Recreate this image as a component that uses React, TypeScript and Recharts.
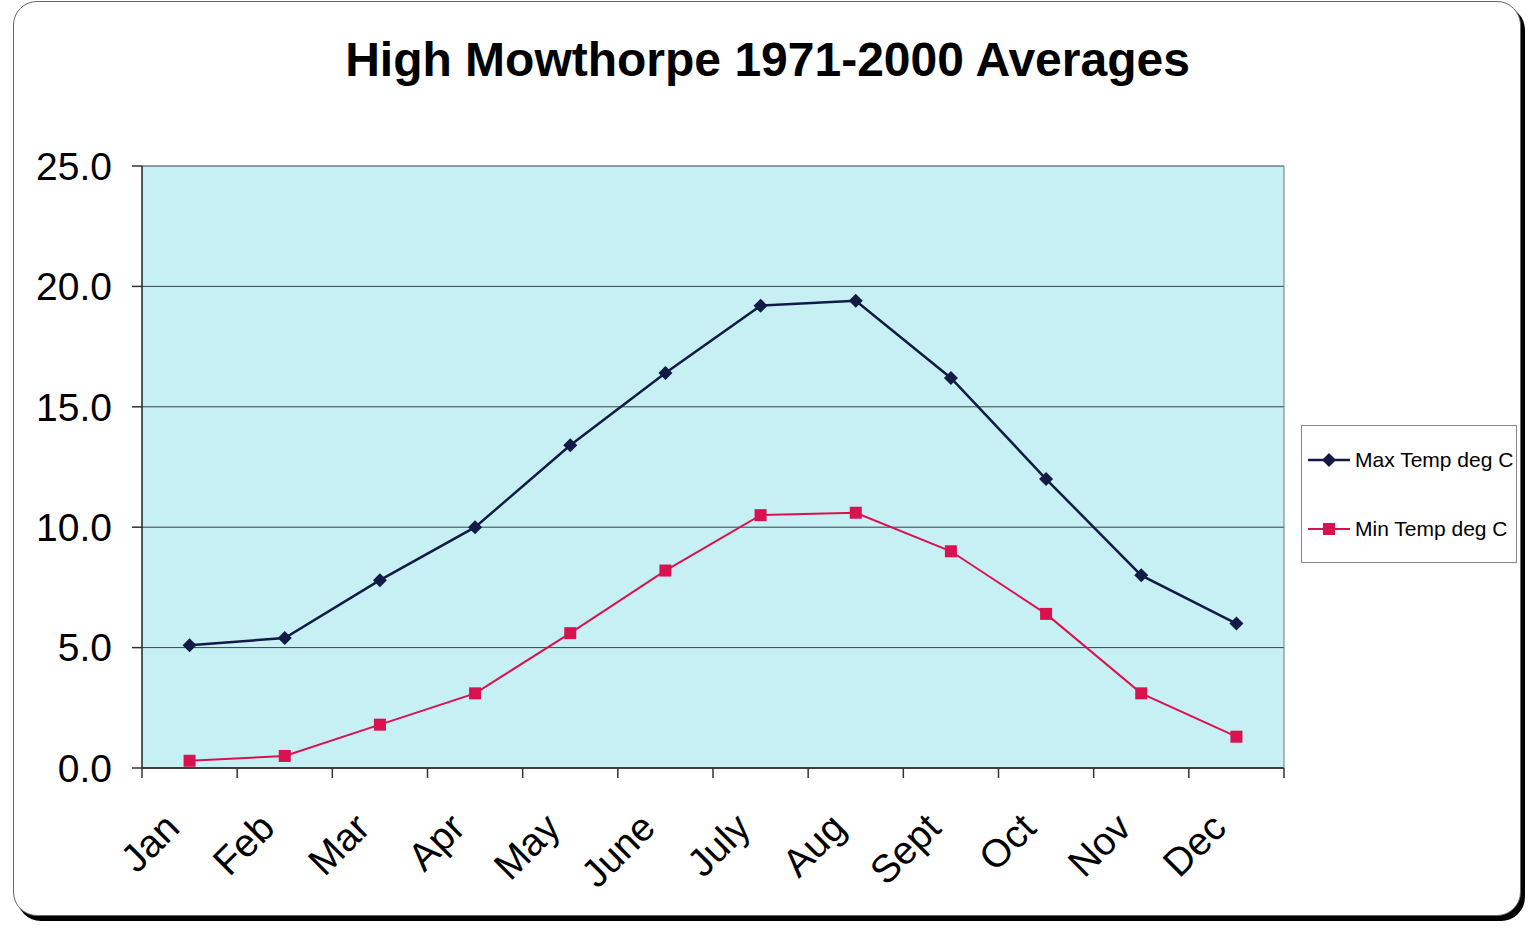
import React from 'react';
import { LineChart, Line, XAxis, YAxis, CartesianGrid, Legend } from 'recharts';

const months = ['Jan', 'Feb', 'Mar', 'Apr', 'May', 'June', 'July', 'Aug', 'Sept', 'Oct', 'Nov', 'Dec'];
const maxTemp = [5.1, 5.4, 7.8, 10.0, 13.4, 16.4, 19.2, 19.4, 16.2, 12.0, 8.0, 6.0];
const minTemp = [0.3, 0.5, 1.8, 3.1, 5.6, 8.2, 10.5, 10.6, 9.0, 6.4, 3.1, 1.3];
const yTicks = [0, 5, 10, 15, 20, 25];
const seriesNames = ['Max Temp deg C', 'Min Temp deg C'];
const titleText = 'High Mowthorpe 1971-2000 Averages';

const data = months.map((m, i) => ({ month: m, max: maxTemp[i], min: minTemp[i] }));

const W = 1539;
const H = 938;
const PLOT_LEFT = 142;
const PLOT_RIGHT = 1284;
const PLOT_TOP = 166;
const PLOT_BOTTOM = 768;
const HALF_BAND = (PLOT_RIGHT - PLOT_LEFT) / months.length / 2;

const NAVY = '#121a45';
const CRIMSON = '#d9124f';
const FONT = '"Liberation Sans", Arial, sans-serif';

const Diamond = (props: any) => {
  const { cx, cy } = props;
  if (cx == null || cy == null) return null;
  const r = 7;
  return <polygon points={`${cx},${cy - r} ${cx + r},${cy} ${cx},${cy + r} ${cx - r},${cy}`} fill={NAVY} />;
};

const Square = (props: any) => {
  const { cx, cy } = props;
  if (cx == null || cy == null) return null;
  const s = 12;
  return <rect x={cx - s / 2} y={cy - s / 2} width={s} height={s} fill={CRIMSON} />;
};

const XTick = (props: any) => {
  const { x, y, payload, index } = props;
  const ax = y;
  const tx = x - 8;
  const ty = ax + 62;
  return (
    <g>
      <line x1={x - HALF_BAND} x2={x - HALF_BAND} y1={ax} y2={ax + 10} stroke="#333" strokeWidth={1.5} />
      {index === months.length - 1 && (
        <line x1={x + HALF_BAND} x2={x + HALF_BAND} y1={ax} y2={ax + 10} stroke="#333" strokeWidth={1.5} />
      )}
      <text
        x={tx}
        y={ty}
        textAnchor="end"
        transform={`rotate(-45, ${tx}, ${ty})`}
        fontSize={39}
        fontFamily={FONT}
        fill="#000"
      >
        {payload.value}
      </text>
    </g>
  );
};

const LegendBox = () => (
  <div
    style={{
      width: 216,
      height: 138,
      boxSizing: 'border-box',
      border: '1px solid #888',
      background: '#fff',
    }}
  >
    <svg width={214} height={136} style={{ display: 'block' }}>
      <line x1={6} x2={48} y1={34} y2={34} stroke={NAVY} strokeWidth={2.5} />
      <Diamond cx={27} cy={34} />
      <text x={53} y={41} fontSize={21} fontFamily={FONT} fill="#000">{seriesNames[0]}</text>
      <line x1={6} x2={48} y1={103} y2={103} stroke={CRIMSON} strokeWidth={2} />
      <Square cx={27} cy={103} />
      <text x={53} y={110} fontSize={21} fontFamily={FONT} fill="#000">{seriesNames[1]}</text>
    </svg>
  </div>
);

export default function App() {
  return (
    <div style={{ position: 'absolute', left: 0, top: 0, width: W, height: H, background: '#fff', overflow: 'hidden' }}>
      <div
        style={{
          position: 'absolute',
          left: 13,
          top: 1,
          width: 1508,
          height: 915,
          boxSizing: 'border-box',
          border: '1px solid #666',
          borderRadius: 24,
          boxShadow: '4px 5px 0 #000',
          background: '#fff',
        }}
      />
      <div
        style={{
          position: 'absolute',
          left: 0,
          width: W,
          top: 32,
          textAlign: 'center',
          fontFamily: FONT,
          fontWeight: 'bold',
          fontSize: 48,
          lineHeight: '56px',
          color: '#000',
        }}
      >
        <span style={{ position: 'relative', left: -2 }}>{titleText}</span>
      </div>
      <div style={{ position: 'absolute', left: 0, top: 0 }}>
        <LineChart
          width={W}
          height={H}
          data={data}
          margin={{ top: PLOT_TOP, right: W - PLOT_RIGHT - 1, bottom: H - PLOT_BOTTOM - 120, left: PLOT_LEFT - 120 }}
        >
          <CartesianGrid yAxisId="left" vertical={false} fill="#c6f0f3" fillOpacity={1} stroke="#3a4048" strokeWidth={1} />
          <XAxis
            dataKey="month"
            height={120}
            padding={{ left: HALF_BAND, right: HALF_BAND }}
            interval={0}
            tickLine={false}
            tickSize={0}
            tickMargin={0}
            tick={<XTick />}
            axisLine={{ stroke: '#222', strokeWidth: 1.5 }}
          />
          <YAxis
            yAxisId="left"
            width={120}
            domain={[0, 25]}
            ticks={yTicks}
            tickFormatter={(v: number) => v.toFixed(1)}
            tickSize={10}
            tickMargin={20}
            tickLine={{ stroke: '#333', strokeWidth: 1.5 }}
            axisLine={{ stroke: '#222', strokeWidth: 1.5 }}
            tick={{ fontSize: 39, fontFamily: FONT, fill: '#000' }}
          />
          <YAxis
            yAxisId="right"
            orientation="right"
            width={1}
            domain={[0, 25]}
            tick={false}
            tickLine={false}
            axisLine={{ stroke: '#6a7a88', strokeWidth: 1 }}
          />
          <Legend
            layout="horizontal"
            verticalAlign="middle"
            align="center"
            wrapperStyle={{ left: 1301, top: 425, width: 216, height: 138 }}
            content={<LegendBox />}
          />
          <Line
            yAxisId="left"
            dataKey="max"
            name={seriesNames[0]}
            stroke={NAVY}
            strokeWidth={2.5}
            dot={<Diamond />}
            activeDot={false}
            isAnimationActive={false}
          />
          <Line
            yAxisId="left"
            dataKey="min"
            name={seriesNames[1]}
            stroke={CRIMSON}
            strokeWidth={2}
            dot={<Square />}
            activeDot={false}
            isAnimationActive={false}
          />
        </LineChart>
      </div>
    </div>
  );
}
